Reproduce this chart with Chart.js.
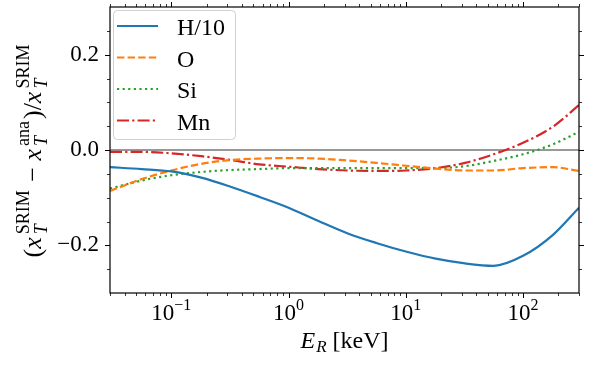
<!DOCTYPE html>
<html>
<head>
<meta charset="utf-8">
<script src="https://cdn.jsdelivr.net/npm/chart.js@4.4.0/dist/chart.umd.min.js"></script>
<style>
  html, body { margin: 0; padding: 0; background: #fff; }
</style>
</head>
<body>
<canvas id="srimChart" width="598" height="373"></canvas>
<script>
var energies = [0.03, 0.056, 0.1, 0.18, 0.32, 0.56, 1, 1.8, 3.2, 5.6, 10, 18, 32, 56, 100, 180, 300];

// relative deviation (SRIM - ana) / SRIM
var hOver10   = [-0.036, -0.040, -0.045, -0.058, -0.077, -0.098, -0.121, -0.149, -0.175, -0.195, -0.213, -0.228, -0.238, -0.243, -0.222, -0.178, -0.121];
var oxygen    = [-0.086, -0.061, -0.043, -0.029, -0.021, -0.018, -0.017, -0.018, -0.022, -0.027, -0.033, -0.039, -0.043, -0.043, -0.038, -0.036, -0.044];
var silicon   = [-0.081, -0.064, -0.053, -0.046, -0.042, -0.040, -0.038, -0.038, -0.038, -0.038, -0.038, -0.038, -0.034, -0.023, -0.009, 0.012, 0.038];
var manganese = [-0.004, -0.004, -0.007, -0.013, -0.021, -0.030, -0.035, -0.040, -0.043, -0.044, -0.043, -0.038, -0.027, -0.009, 0.015, 0.049, 0.094];

var seriesLabels = ['H/10', 'O', 'Si', 'Mn'];
var xTicks = [0.1, 1, 10, 100];
var xTickExponents = ['\u22121', '0', '1', '2'];
var yTicks = [-0.2, 0, 0.2];
var yTickLabels = ['\u22120.2', '0.0', '0.2'];

var FONT = '"Liberation Serif", "DejaVu Serif", serif';

function pts(arr) {
  return energies.map(function(e, i) { return { x: e, y: arr[i] }; });
}

// draw a row of text pieces, centred on x. piece: [text, font, rise, gapAfter] or {sub, sup, font, ...}
function drawRich(ctx, parts, x, y) {
  var widths = parts.map(function(p) {
    if (Array.isArray(p)) { ctx.font = p[1]; return ctx.measureText(p[0]).width + (p[3] || 0); }
    ctx.font = p.subFont || p.font;
    var ws = ctx.measureText(p.sub).width;
    ctx.font = p.font;
    return Math.max(ws, ctx.measureText(p.sup).width) + (p.gap || 0);
  });
  var total = widths.reduce(function(a, b) { return a + b; }, 0);
  var cx = x - total / 2;
  ctx.textAlign = 'left';
  ctx.textBaseline = 'alphabetic';
  parts.forEach(function(p, i) {
    if (Array.isArray(p)) {
      ctx.font = p[1];
      ctx.fillText(p[0], cx, y - p[2]);
    } else {
      ctx.font = p.subFont || p.font;
      ctx.fillText(p.sub, cx, y + p.subDrop);
      ctx.font = p.font;
      ctx.fillText(p.sup, cx, y - p.supRise);
    }
    cx += widths[i];
  });
  return total;
}

var decorations = {
  id: 'decorations',
  afterDraw: function(chart) {
    var ctx = chart.ctx, ca = chart.chartArea;
    var xs = chart.scales.x, ys = chart.scales.y;
    ctx.save();
    ctx.fillStyle = '#000';
    ctx.strokeStyle = '#000';

    // tick marks, outward on all four sides
    for (var d = -2; d <= 2; d++) {
      for (var m = 1; m <= 9; m++) {
        var v = m * Math.pow(10, d);
        if (v < 0.03 || v > 300) continue;
        var px = Math.round(xs.getPixelForValue(v)) + 0.5;
        var len = m === 1 ? 5 : 3;
        ctx.lineWidth = m === 1 ? 1 : 0.8;
        ctx.beginPath();
        ctx.moveTo(px, ca.bottom); ctx.lineTo(px, ca.bottom + len);
        ctx.moveTo(px, ca.top); ctx.lineTo(px, ca.top - len);
        ctx.stroke();
      }
    }
    for (var k = -5; k <= 5; k++) {
      var py = Math.round(ys.getPixelForValue(k * 0.05)) + 0.5;
      var major = k % 4 === 0;
      var l = major ? 5 : 3;
      ctx.lineWidth = major ? 1 : 0.8;
      ctx.beginPath();
      ctx.moveTo(ca.left - l, py); ctx.lineTo(ca.left, py);
      ctx.moveTo(ca.right, py); ctx.lineTo(ca.right + l, py);
      ctx.stroke();
    }

    // frame
    ctx.lineWidth = 1.2;
    ctx.strokeRect(ca.left, ca.top, ca.right - ca.left, ca.bottom - ca.top);

    // x tick labels 10^n
    xTicks.forEach(function(v, i) {
      drawRich(ctx, [['10', '23px ' + FONT, 0], [xTickExponents[i], '16px ' + FONT, 10]],
        xs.getPixelForValue(v), 320);
    });

    // x title
    drawRich(ctx, [['E', 'italic 24px ' + FONT, 0, 1], ['R', 'italic 17px ' + FONT, -4], [' [keV]', '24px ' + FONT, 0]],
      (ca.left + ca.right) / 2, 348);

    // y title, rotated
    var main = '26px ' + FONT, it = 'italic 26px ' + FONT;
    var scr = { font: '18px ' + FONT, subFont: 'italic 18px ' + FONT, sub: 'T', subDrop: 6, supRise: 12, gap: 2 };
    ctx.save();
    ctx.translate(41, (ca.top + ca.bottom) / 2);
    ctx.rotate(-Math.PI / 2);
    drawRich(ctx, [
      ['(', main, 0], ['x', it, 0, 3], Object.assign({}, scr, { sup: 'SRIM' }),
      [' \u2212 ', main, 0], ['x', it, 0, 3], Object.assign({}, scr, { sup: 'ana' }),
      [')/', main, 0], ['x', it, 0, 3], Object.assign({}, scr, { sup: 'SRIM' })
    ], 0, 0);
    ctx.restore();

    // legend
    ctx.beginPath();
    ctx.roundRect(113.5, 10.5, 122, 129, 4);
    ctx.fillStyle = 'rgba(255,255,255,0.8)';
    ctx.fill();
    ctx.strokeStyle = '#d0d0d0';
    ctx.lineWidth = 1;
    ctx.stroke();
    chart.data.datasets.slice(0, 4).forEach(function(ds, i) {
      var y = 26 + i * 31.5;
      ctx.strokeStyle = ds.borderColor;
      ctx.lineWidth = ds.borderWidth;
      ctx.setLineDash(ds.borderDash || []);
      ctx.beginPath();
      ctx.moveTo(117, y); ctx.lineTo(158, y);
      ctx.stroke();
      ctx.setLineDash([]);
      ctx.fillStyle = '#000';
      ctx.font = '24px ' + FONT;
      ctx.textAlign = 'left';
      ctx.fillText(seriesLabels[i], 177, y + 9);
    });
    ctx.restore();
  }
};

var ctx = document.getElementById('srimChart');
var myChart = new Chart(ctx, {
  type: 'line',
  data: {
    datasets: [{
      label: seriesLabels[0],
      data: pts(hOver10),
      borderColor: '#1f77b4',
      borderWidth: 2.2,
      borderDash: []
    }, {
      label: seriesLabels[1],
      data: pts(oxygen),
      borderColor: '#ff7f0e',
      borderWidth: 2.2,
      borderDash: [7.4, 3.2]
    }, {
      label: seriesLabels[2],
      data: pts(silicon),
      borderColor: '#2ca02c',
      borderWidth: 2.2,
      borderDash: [2.2, 3.4]
    }, {
      label: seriesLabels[3],
      data: pts(manganese),
      borderColor: '#d62728',
      borderWidth: 2.2,
      borderDash: [12, 3.2, 2.2, 3.2]
    }, {
      label: 'zero',
      data: [{ x: 0.03, y: 0 }, { x: 300, y: 0 }],
      borderColor: '#333',
      borderWidth: 1,
      order: 10
    }]
  },
  options: {
    responsive: false,
    animation: false,
    devicePixelRatio: 1,
    layout: { padding: { top: 7, right: 19, left: 0, bottom: 0 } },
    elements: {
      point: { radius: 0 },
      line: { cubicInterpolationMode: 'monotone', fill: false }
    },
    plugins: { legend: { display: false }, tooltip: { enabled: false } },
    scales: {
      x: {
        type: 'logarithmic',
        min: 0.03,
        max: 300,
        grid: { display: false },
        border: { display: false },
        ticks: { display: false },
        afterBuildTicks: function(axis) { axis.ticks = xTicks.map(function(v) { return { value: v }; }); },
        afterFit: function(scale) {
          scale.height = 80;
          scale.paddingLeft = 0;
          scale.paddingRight = 0;
        }
      },
      y: {
        min: -0.3,
        max: 0.3,
        grid: { display: false, drawTicks: false, tickLength: 0 },
        border: { display: false },
        ticks: {
          padding: 11,
          color: '#000',
          font: { family: FONT, size: 23 },
          callback: function(value) {
            var i = yTicks.findIndex(function(t) { return Math.abs(t - value) < 1e-9; });
            return i >= 0 ? yTickLabels[i] : '';
          }
        },
        afterBuildTicks: function(axis) { axis.ticks = yTicks.map(function(v) { return { value: v }; }); },
        afterFit: function(scale) {
          scale.width = 110;
          scale.paddingTop = 0;
          scale.paddingBottom = 0;
        }
      }
    }
  },
  plugins: [decorations]
});
</script>
</body>
</html>
